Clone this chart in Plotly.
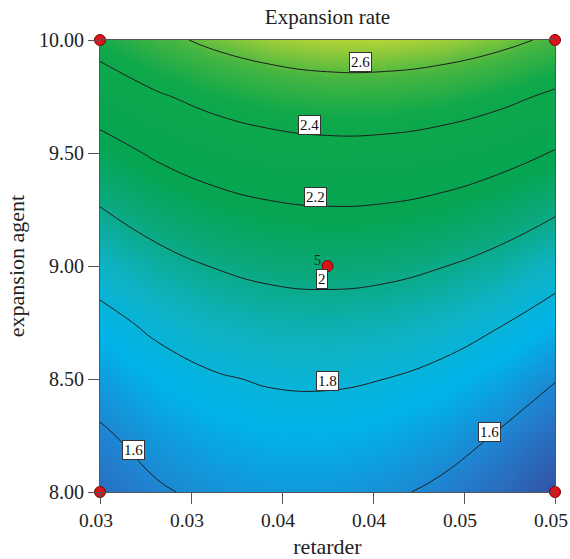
import plotly.graph_objects as go

# Factor levels of the response-surface grid
retarder = [0.0300, 0.0325, 0.0350, 0.0375, 0.0400, 0.0425, 0.0450, 0.0475, 0.0500]
expansion_agent = [8.00, 8.25, 8.50, 8.75, 9.00, 9.25, 9.50, 9.75, 10.00]

# Predicted expansion rate, one row per expansion-agent level
expansion_rate = [
    [1.518, 1.585, 1.629, 1.650, 1.649, 1.623, 1.575, 1.504, 1.410],
    [1.581, 1.652, 1.700, 1.724, 1.726, 1.704, 1.659, 1.591, 1.500],
    [1.661, 1.735, 1.786, 1.814, 1.819, 1.800, 1.759, 1.694, 1.607],
    [1.756, 1.833, 1.888, 1.919, 1.927, 1.912, 1.874, 1.813, 1.729],
    [1.867, 1.947, 2.005, 2.040, 2.052, 2.040, 2.005, 1.947, 1.867],
    [1.993, 2.077, 2.138, 2.176, 2.191, 2.183, 2.152, 2.097, 2.020],
    [2.135, 2.222, 2.287, 2.328, 2.347, 2.342, 2.314, 2.263, 2.189],
    [2.292, 2.383, 2.451, 2.496, 2.518, 2.516, 2.492, 2.444, 2.373],
    [2.466, 2.560, 2.631, 2.679, 2.705, 2.706, 2.685, 2.641, 2.574],
]

# Contour levels that carry a label, and where each label sits
label_levels = [2.6, 2.4, 2.2, 2.0, 1.8, 1.6, 1.6]
label_x = [0.04147, 0.03923, 0.03949, 0.03976, 0.03998, 0.03149, 0.04710]
label_y = [9.903, 9.624, 9.305, 8.942, 8.491, 8.186, 8.265]

# Design points and their replicate counts
design_x = [0.03, 0.03, 0.05, 0.05, 0.04]
design_y = [8.0, 10.0, 8.0, 10.0, 9.0]
replicates = [1, 1, 1, 1, 5]

SERIF = "Liberation Serif, Times New Roman, serif"

colorscale = [
    [0.00, "rgb(52,82,165)"],
    [0.12, "rgb(35,125,205)"],
    [0.25, "rgb(0,180,235)"],
    [0.36, "rgb(15,178,195)"],
    [0.48, "rgb(10,168,122)"],
    [0.58, "rgb(5,165,82)"],
    [0.80, "rgb(15,168,75)"],
    [0.90, "rgb(70,182,65)"],
    [1.00, "rgb(182,212,55)"],
]

fig = go.Figure()

fig.add_trace(go.Contour(
    x=retarder, y=expansion_agent, z=expansion_rate,
    colorscale=colorscale, zmin=1.41, zmax=2.71,
    contours=dict(start=1.6, end=2.6, size=0.2, coloring="heatmap", showlabels=False),
    line=dict(color="#1e1e1e", width=1, smoothing=1.3),
    showscale=False, hoverinfo="skip",
))

fig.add_trace(go.Scatter(
    x=design_x, y=design_y, mode="markers",
    marker=dict(size=11, color="#d9151b", line=dict(color="#7a0000", width=1)),
    cliponaxis=False, showlegend=False, hoverinfo="skip",
))

annotations = []
for lvl, lx, ly in zip(label_levels, label_x, label_y):
    annotations.append(dict(
        x=lx, y=ly, xref="x", yref="y", showarrow=False,
        text=f"{lvl:g}", font=dict(family=SERIF, size=15, color="#111"),
        bgcolor="white", bordercolor="#333", borderwidth=1, borderpad=1,
    ))

# replicate count next to each repeated design point
for dx, dy, r in zip(design_x, design_y, replicates):
    if r > 1:
        annotations.append(dict(
            x=dx, y=dy, xref="x", yref="y", showarrow=False,
            text=str(r), xshift=-10, yshift=6,
            font=dict(family=SERIF, size=14, color="#222"),
        ))

fig.update_layout(
    width=570, height=559,
    margin=dict(l=100, r=15, t=40, b=67),
    paper_bgcolor="white", plot_bgcolor="white",
    font=dict(family=SERIF, size=20, color="#222"),
    title=dict(text="Expansion rate", x=0.5, xref="paper", y=1 - 17 / 559,
               yanchor="middle", xanchor="center",
               font=dict(family=SERIF, size=21, color="#222")),
    annotations=annotations,
    showlegend=False,
)

fig.update_xaxes(
    range=[0.03, 0.05], tickvals=[0.03, 0.034, 0.038, 0.042, 0.046, 0.05],
    tickformat=".2f", ticks="outside", ticklen=11, tickcolor="#555",
    ticklabeloverflow="allow", ticklabelshift=-4, automargin=False,
    showline=True, linecolor="#555", linewidth=1, mirror=True,
    showgrid=False, zeroline=False,
    title=dict(text="retarder", standoff=10, font=dict(family=SERIF, size=22)),
    tickfont=dict(family=SERIF, size=19.5),
)
fig.update_yaxes(
    range=[8, 10], tickvals=[8, 8.5, 9, 9.5, 10],
    tickformat=".2f", ticks="outside", ticklen=11, tickcolor="#555",
    ticklabeloverflow="allow", automargin=False,
    showline=True, linecolor="#555", linewidth=1, mirror=True,
    showgrid=False, zeroline=False,
    title=dict(text="expansion agent", standoff=8, font=dict(family=SERIF, size=22)),
    tickfont=dict(family=SERIF, size=20),
)

fig.write_html("out.html")
